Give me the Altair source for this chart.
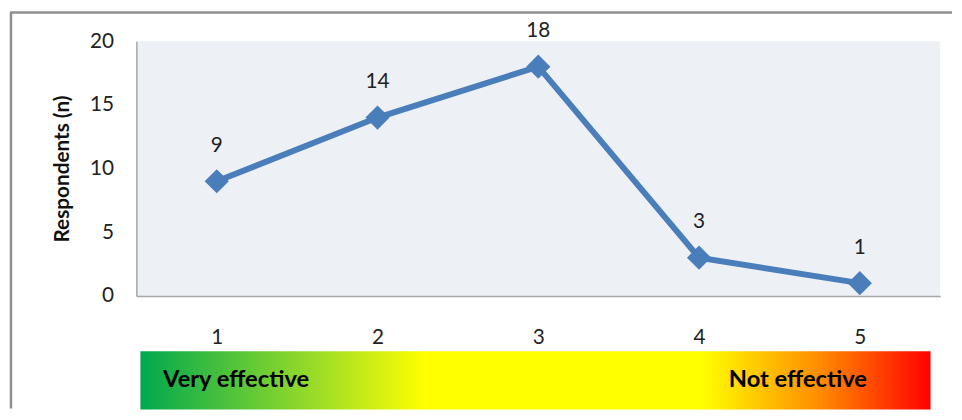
import altair as alt
import pandas as pd

# Data
ratings = [1, 2, 3, 4, 5]
respondents = [9, 14, 18, 3, 1]
y_ticks = [0, 5, 10, 15, 20]
scale_labels = ["Very effective", "Not effective"]
scale_label_pos = [0.666, 5.045]
bar_start = [0.525]
bar_end = [5.44]

df = pd.DataFrame({"rating": ratings, "n": respondents})
left_df = pd.DataFrame({"rating": [scale_label_pos[0]], "label": [scale_labels[0]], "mid": [0.5]})
right_df = pd.DataFrame({"rating": [scale_label_pos[1]], "label": [scale_labels[1]], "mid": [0.5]})
bar_df = pd.DataFrame({"rating": bar_start, "x2": bar_end, "lo": [0.0], "hi": [1.0]})

FONT = "Lato"
BLUE = "#4a7ebb"
FRAME = "#8f8f8f"

xscale = alt.Scale(domain=[0.5, 5.5], nice=False, zero=False)
xaxis = alt.Axis(values=ratings, title=None, grid=False, ticks=False,
                 labelPadding=31, labelFontSize=21, labelColor="#222",
                 labelFont=FONT, domainColor="#a6a6a6", domainWidth=1.5,
                 format="d")
# scale that places the effectiveness strip below the x-axis labels
strip_scale = alt.Scale(domain=[0, 1], range=[373, 314], nice=False, zero=False)

base = alt.Chart(df).encode(
    x=alt.X("rating:Q", scale=xscale, axis=xaxis),
    y=alt.Y("n:Q", scale=alt.Scale(domain=[0, 20], nice=False),
            axis=alt.Axis(values=y_ticks, title="Respondents (n)", grid=False,
                          ticks=False, labelPadding=23, labelFontSize=21,
                          labelColor="#222", labelFont=FONT,
                          titleFont=FONT, titleFontSize=21, titleFontWeight="bold",
                          titleColor="#111", titlePadding=17,
                          domainColor="#a6a6a6", domainWidth=1.5)),
)

line = base.mark_line(color=BLUE, strokeWidth=6)
pts = base.mark_point(shape="diamond", filled=True, size=600, color=BLUE, opacity=1)
txt = base.mark_text(dy=-36, fontSize=21, font=FONT, color="#222").encode(
    text="n:Q")

main = alt.layer(line, pts, txt)

# outer frame of the figure (left and top edges)
frame_v = alt.Chart(bar_df).mark_rule(color=FRAME, strokeWidth=2.5).encode(
    x=alt.value(-127), y=alt.value(-29), y2=alt.value(372))
frame_h = alt.Chart(bar_df).mark_rule(color=FRAME, strokeWidth=2.5).encode(
    x=alt.value(-128), x2=alt.value(826), y=alt.value(-29))

bar = alt.Chart(bar_df).mark_rect(
    fill=alt.Gradient(
        gradient="linear",
        stops=[
            alt.GradientStop(offset=0.0, color="#00a84f"),
            alt.GradientStop(offset=0.24, color="#a8e024"),
            alt.GradientStop(offset=0.36, color="#ffff00"),
            alt.GradientStop(offset=0.71, color="#ffff00"),
            alt.GradientStop(offset=0.86, color="#ff8c00"),
            alt.GradientStop(offset=1.0, color="#ff0000"),
        ],
        x1=0, x2=1, y1=0, y2=0,
    )
).encode(
    x=alt.X("rating:Q", scale=xscale, axis=xaxis),
    x2="x2:Q",
    y=alt.Y("lo:Q", scale=strip_scale, axis=None),
    y2="hi:Q",
)


def label_layer(data, align):
    return alt.Chart(data).mark_text(
        fontSize=24, font=FONT, fontWeight="bold", color="#000", align=align
    ).encode(x=alt.X("rating:Q", scale=xscale, axis=xaxis),
             y=alt.Y("mid:Q", scale=strip_scale, axis=None),
             text="label:N")


strip = alt.layer(bar, label_layer(left_df, "left"), label_layer(right_df, "right"))

chart = alt.layer(frame_v, frame_h, main, strip).resolve_scale(
    y="independent"
).properties(
    width=814, height=258,
    padding={"left": 0, "top": 0, "right": 0, "bottom": 0},
).configure(background="white").configure_view(stroke=None, fill="#edf0f5")

chart.save("out.html", embed_options={"renderer": "svg", "actions": False})
